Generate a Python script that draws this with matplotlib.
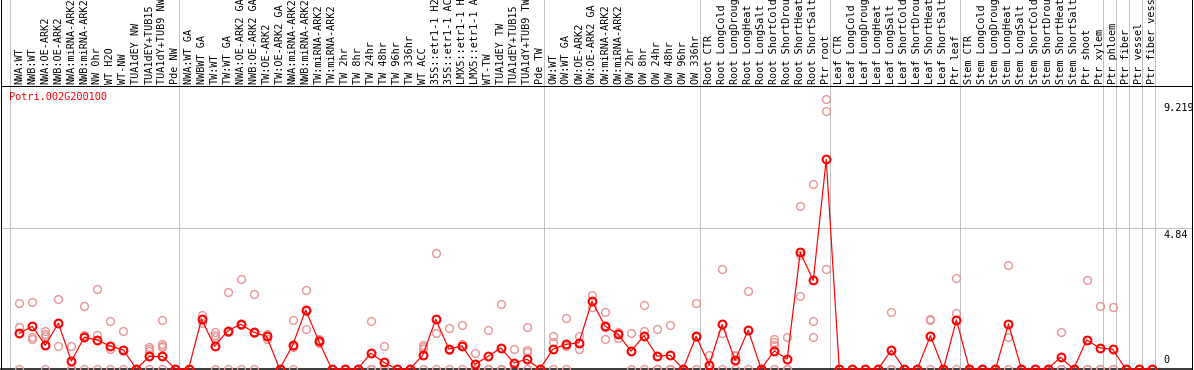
import numpy as np
import matplotlib
matplotlib.use("Agg")
import matplotlib.pyplot as plt
from matplotlib.transforms import blended_transform_factory, offset_copy

# sample labels, grouped by the grey separators (as far as they show in the strip)
group_labels = [
    ["NWA:WT", "NWB:WT", "NWA:OE-ARK2", "NWB:OE-ARK2", "NWA:miRNA-ARK2", "NWB:miRNA-ARK2",
     "NW 0hr", "WT H2O", "WT-NW", "TUA1dEY NW", "TUA1dEY+TUB15", "TUA1dY+TUB9 NW", "Pde NW"],
    ["NWA:WT GA", "NWBWT GA", "TW:WT", "TW:WT GA", "NWA:OE-ARK2 GA", "NWB:OE-ARK2 GA",
     "TW:OE-ARK2", "TW:OE-ARK2 GA", "NWA:miRNA-ARK2", "NWB:miRNA-ARK2", "TW:miRNA-ARK2",
     "TW:miRNA-ARK2", "TW 2hr", "TW 8hr", "TW 24hr", "TW 48hr", "TW 96hr", "TW 336hr",
     "WT ACC", "35S::etr1-1 H2", "35S::etr1-1 AC", "LMX5::etr1-1 H", "LMX5::etr1-1 A",
     "WT-TW", "TUA1dEY TW", "TUA1dEY+TUB15", "TUA1dY+TUB9 TW", "Pde TW"],
    ["OW:WT", "OW:WT GA", "OW:OE-ARK2", "OW:OE-ARK2 GA", "OW:miRNA-ARK2", "OW:miRNA-ARK2",
     "OW 2hr", "OW 8hr", "OW 24hr", "OW 48hr", "OW 96hr", "OW 336hr"],
    ["Root CTR", "Root LongCold", "Root LongDroug", "Root LongHeat", "Root LongSalt",
     "Root ShortCold", "Root ShortDrou", "Root ShortHeat", "Root ShortSalt", "Ptr root"],
    ["Leaf CTR", "Leaf LongCold", "Leaf LongDroug", "Leaf LongHeat", "Leaf LongSalt",
     "Leaf ShortCold", "Leaf ShortDrou", "Leaf ShortHeat", "Leaf ShortSalt", "Ptr leaf"],
    ["Stem CTR", "Stem LongCold", "Stem LongDroug", "Stem LongHeat", "Stem LongSalt",
     "Stem ShortCold", "Stem ShortDrou", "Stem ShortHeat", "Stem ShortSalt",
     "Ptr shoot", "Ptr xylem"],
    ["Ptr phloem"], ["Ptr fiber"], ["Ptr vessel"], ["Ptr fiber vess"],
]

# mean expression per sample
means = [1.22, 1.46, 0.81, 1.57, 0.27, 1.09, 0.99, 0.78, 0.65, 0, 0.43, 0.43, 0,
         0, 1.70, 0.78, 1.30, 1.53, 1.26, 1.12, 0, 0.81, 2.02, 0.96, 0, 0, 0, 0.54, 0.23,
         0, 0, 0.47, 1.70, 0.68, 0.79, 0.16, 0.43, 0.72, 0.21, 0.33, 0,
         0.68, 0.84, 0.90, 2.32, 1.47, 1.19, 0.61, 1.14, 0.44, 0.47, 0, 1.12,
         0.14, 1.53, 0.30, 1.33, 0, 0.62, 0.34, 3.99, 3.03, 7.17,
         0, 0, 0, 0, 0.65, 0, 0, 1.14, 0, 1.68,
         0, 0, 0, 1.54, 0, 0, 0, 0.40, 0, 0.99, 0.72,
         0.68, 0, 0, 0]

# individual replicates per sample
replicates = [
    [2.25, 1.43, 0], [2.29, 1.10, 1.02], [1.29, 1.20, 1.12, 0], [2.38, 0.78, 1.57],
    [0.79, 0, 0], [2.14, 1.15, 0], [2.73, 1.17, 0], [1.64, 0.70, 0], [1.29, 0.66, 0],
    [0, 0, 0], [0.76, 0.68, 0.61, 0], [1.67, 0.87, 0.80, 0.74, 0], [0, 0, 0],
    [0, 0, 0], [1.84, 1.58, 1.70], [1.26, 1.16, 1.08, 0], [2.62, 1.28, 0], [3.07, 1.52, 0],
    [2.55, 1.23, 0], [1.20, 1.12, 1.04], [0, 0, 0], [1.67, 0.76, 0], [2.69, 1.37, 2.00],
    [0.99, 0.88, 1.01], [0, 0, 0], [0, 0, 0], [0, 0, 0], [1.64, 0, 0], [0.78, 0, 0],
    [0, 0, 0], [0, 0, 0], [0.83, 0.76, 0.67, 0], [3.96, 1.22, 0], [1.39, 0.66, 0],
    [1.49, 0.87, 0], [0.54, 0, 0], [1.33, 0, 0], [2.22, 0, 0], [0.68, 0, 0],
    [1.43, 0.65, 0.59, 0], [0, 0, 0],
    [1.13, 0.91, 0], [1.73, 0.79, 0], [1.13, 0.68, 0.90], [2.52, 2.11, 2.33],
    [1.95, 1.03, 1.43], [1.28, 1.05, 1.24], [1.22, 0.61, 0], [2.18, 1.31, 0],
    [1.36, 0, 0], [1.49, 0, 0], [0, 0, 0], [2.25, 1.11, 0],
    [0.47, 0, 0], [3.41, 1.22, 0], [0.47, 0.43, 0], [2.66, 1.33, 0], [0, 0, 0],
    [1.02, 0.91, 0.83, 0], [1.08, 0, 0], [5.56, 2.50, 3.91], [6.33, 1.64, 1.09],
    [9.219, 8.82, 3.41],
    [0, 0, 0], [0, 0, 0], [0, 0, 0], [0, 0, 0], [1.95, 0, 0], [0, 0, 0], [0, 0, 0],
    [1.70, 1.67, 0], [0, 0, 0], [3.10, 1.92, 0],
    [0, 0, 0], [0, 0, 0], [0, 0, 0], [3.55, 1.08, 0], [0, 0, 0], [0, 0, 0], [0, 0, 0],
    [1.27, 0, 0], [0, 0, 0], [3.03, 0, 0], [2.14, 0, 0],
    [2.11, 0, 0], [0, 0, 0], [0, 0, 0], [0, 0, 0],
]

gene = "Potri.002G200100"
y_max_label = "9.219"
y_mid = 4.84
y_top = 9.68

labels = [lab for g in group_labels for lab in g]
x = np.arange(len(labels))

W, H = 1194, 370
fig = plt.figure(figsize=(W / 100, H / 100), dpi=100)
ax = fig.add_axes([1 / W, 1 / H, 1191 / W, 283 / H])
ax.set_xlim(-1.406, 90.1)
ax.set_ylim(0, y_top)
ax.set_axis_off()

px = 0.72  # one pixel in points
mono = "DejaVu Sans Mono"
grey = "#C0C0C0"
trans = blended_transform_factory(ax.transData, ax.transAxes)
top_frac = 1 + 86 / 283

# group separators running through the label strip
bounds = np.cumsum([0] + [len(g) for g in group_labels])
for b in bounds:
    ax.plot([b - 0.715, b - 0.715], [0, top_frac], transform=trans, color=grey,
            lw=px, clip_on=False, zorder=1)
ax.axhline(y_mid, color=grey, lw=px, zorder=1)

# frame
ax.plot([0, 1], [1, 1], transform=ax.transAxes, color="black", lw=px, clip_on=False)
ax.plot([0, 1], [0, 0], transform=ax.transAxes, color="black", lw=px * 1.5, clip_on=False)
ax.plot([0, 0], [0, top_frac], transform=ax.transAxes, color="black", lw=px, clip_on=False)
ax.plot([1, 1], [0, top_frac], transform=ax.transAxes, color="black", lw=px, clip_on=False)

# rotated sample labels
for xi, lab in zip(x, labels):
    ax.text(xi, 1 + 2.5 / 283, lab, transform=trans, rotation=90, ha="center",
            va="bottom", fontsize=7.3, family=mono, clip_on=False)

# replicates
for xi, reps in zip(x, replicates):
    ax.plot([xi] * len(reps), reps, "o", ms=5.6, mfc="none", mec="#E89696",
            mew=1.0, clip_on=False, zorder=2)

# mean line
ax.plot(x, means, "-", color="red", lw=px * 1.2, zorder=3, clip_on=False)
ax.plot(x, means, "o", ms=5.6, mfc="none", mec="red", mew=1.5, zorder=4, clip_on=False)

# text
ax.text(0.0067, 1 - 11 / 283, gene, transform=ax.transAxes, color="red",
        fontsize=7.4, family=mono, va="center", ha="left")
rt = blended_transform_factory(ax.transAxes, ax.transData)
ax.text(0.9757, 9.219, y_max_label, transform=offset_copy(rt, fig, y=-4, units="dots"),
        fontsize=7.3, family=mono, va="top", ha="left")
ax.text(0.9757, y_mid, str(y_mid), transform=offset_copy(rt, fig, y=-2, units="dots"),
        fontsize=7.3, family=mono, va="top", ha="left")
ax.text(0.9757, 0, "0", transform=offset_copy(rt, fig, y=4, units="dots"),
        fontsize=7.3, family=mono, va="bottom", ha="left")

fig.savefig("out.png", dpi=100)
